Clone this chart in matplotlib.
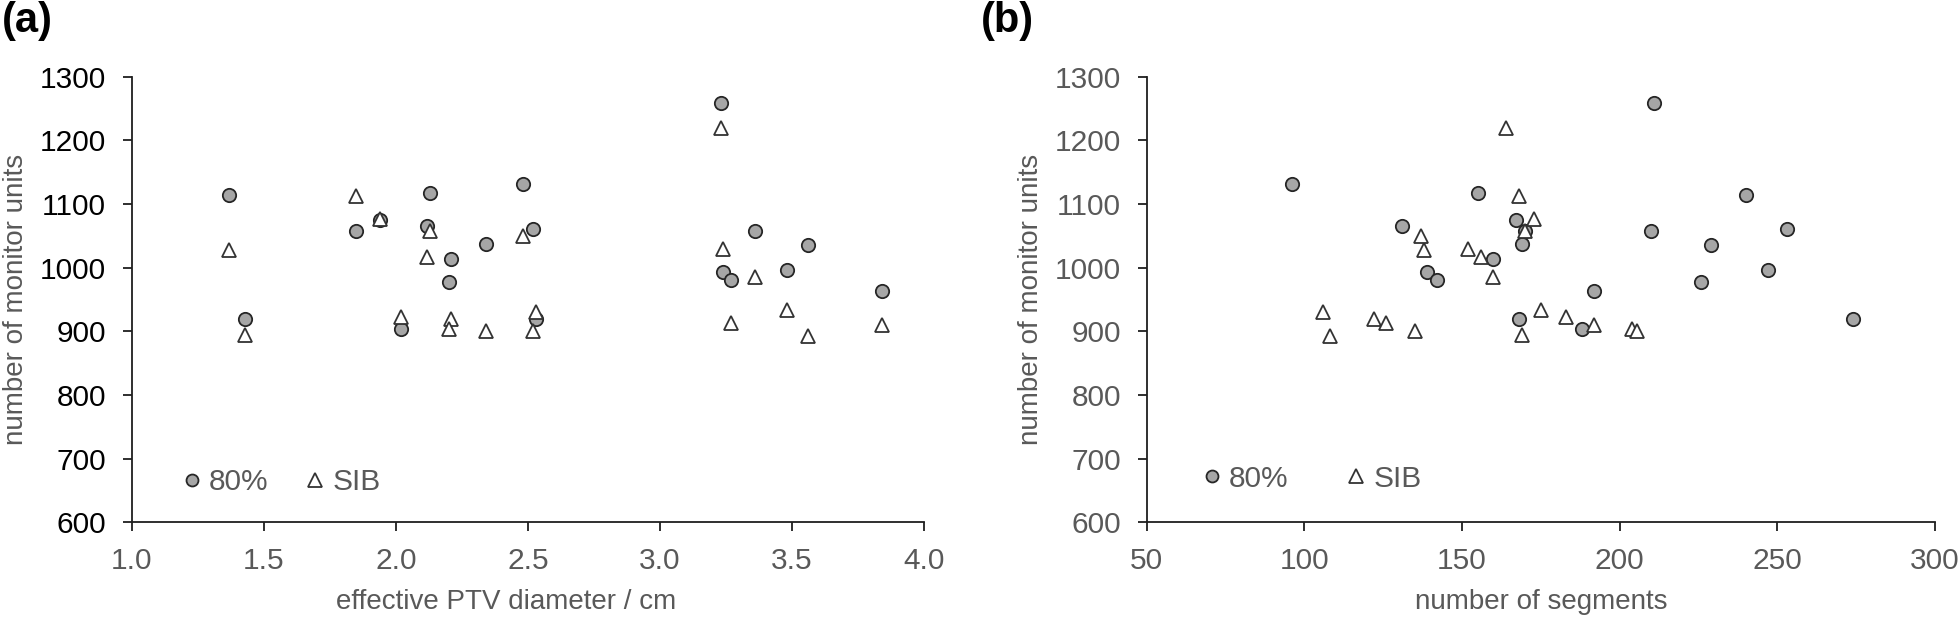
import matplotlib
matplotlib.use("Agg")
import matplotlib.pyplot as plt
from matplotlib.lines import Line2D

plt.rcParams["font.family"] = ["Liberation Sans", "DejaVu Sans"]

# ---- data, one entry per patient -------------------------------------------
ptv_diameter = [1.37, 1.43, 1.85, 1.94, 2.13, 2.12, 2.02, 2.21, 2.20, 2.34,
                2.48, 2.52, 2.53, 3.23, 3.24, 3.27, 3.36, 3.48, 3.56, 3.84]
mu_80 = [1114, 919, 1058, 1075, 1117, 1065, 904, 1013, 977, 1037,
         1131, 1060, 920, 1258, 993, 981, 1058, 996, 1035, 963]
mu_sib = [1027, 894, 1113, 1076, 1057, 1016, 923, 920, 903, 901,
          1050, 901, 931, 1220, 1029, 913, 986, 933, 893, 910]
segments_80 = [240, 274, 170, 167, 155, 131, 188, 160, 226, 169,
               96, 253, 168, 211, 139, 142, 210, 247, 229, 192]
segments_sib = [138, 169, 168, 173, 170, 156, 183, 122, 204, 135,
                137, 205.5, 106, 164, 152, 126, 160, 175, 108, 192]

LABEL_80 = "80%"
LABEL_SIB = "SIB"

GREY_TXT = "#595959"
SPINE = "#1f1f1f"
FS_LABEL = 20
FS_TICK = 21.5

circle_kw = dict(marker="o", ls="none", ms=9.6, mfc="#a6a6a6", mec="#262626", mew=1.3)
tri_kw = dict(marker="^", ls="none", ms=10.2, mfc="white", mec="#333333", mew=1.3)


def style_axes(ax, ytick_color):
    for spine in ("top", "right"):
        ax.spines[spine].set_visible(False)
    for spine in ("left", "bottom"):
        ax.spines[spine].set_color(SPINE)
        ax.spines[spine].set_linewidth(1.3)
    ax.tick_params(axis="both", direction="out", length=6.5, width=1.3,
                   color=SPINE, labelsize=FS_TICK)
    ax.tick_params(axis="x", labelcolor=GREY_TXT, pad=11)
    ax.tick_params(axis="y", labelcolor=ytick_color, pad=12)
    ax.set_ylim(600, 1300)
    ax.set_yticks(range(600, 1301, 100))
    ax.set_ylabel("number of monitor units", fontsize=FS_LABEL, color=GREY_TXT, labelpad=8)


def add_legend(ax, x, y, colspace):
    handles = [Line2D([], [], **dict(circle_kw, ms=8.6)), Line2D([], [], **tri_kw)]
    leg = ax.legend(handles, [LABEL_80, LABEL_SIB], loc="center left",
                    bbox_to_anchor=(x, y), ncol=2, frameon=False, fontsize=21.5,
                    handlelength=0.75, handletextpad=0.2, columnspacing=colspace,
                    borderpad=0, borderaxespad=0, labelcolor=GREY_TXT)
    return leg


fig = plt.figure(figsize=(19.6, 6.19), dpi=100)
ax_a = fig.add_axes([0.0672, 0.1562, 0.4042, 0.7199])
ax_b = fig.add_axes([0.5851, 0.1562, 0.4020, 0.7199])

# (a) monitor units vs effective PTV diameter
ax_a.plot(ptv_diameter, mu_80, zorder=3, **circle_kw)
ax_a.plot(ptv_diameter, mu_sib, zorder=4, **tri_kw)
style_axes(ax_a, "black")
ax_a.set_xlim(1.0, 4.0)
ax_a.set_xticks([1.0, 1.5, 2.0, 2.5, 3.0, 3.5, 4.0])
ax_a.set_xticklabels([f"{v:.1f}" for v in ax_a.get_xticks()])
ax_a.set_xlabel("effective PTV diameter / cm", fontsize=FS_LABEL, color=GREY_TXT, labelpad=10)
ax_a.xaxis.label.set_x(0.4724)  # title sits a little left of centre in the original
add_legend(ax_a, 0.0615, 0.090, 1.2)

# (b) monitor units vs number of segments
ax_b.plot(segments_80, mu_80, zorder=3, **circle_kw)
ax_b.plot(segments_sib, mu_sib, zorder=4, **tri_kw)
style_axes(ax_b, GREY_TXT)
ax_b.set_xlim(50, 300)
ax_b.set_xticks(range(50, 301, 50))
ax_b.set_xlabel("number of segments", fontsize=FS_LABEL, color=GREY_TXT, labelpad=10)
add_legend(ax_b, 0.068, 0.098, 1.9)

fig.text(0.0012, 0.998, "(a)", fontsize=30, fontweight="bold", va="top", ha="left")
fig.text(0.5005, 0.998, "(b)", fontsize=30, fontweight="bold", va="top", ha="left")

fig.savefig("out.png", dpi=100)
